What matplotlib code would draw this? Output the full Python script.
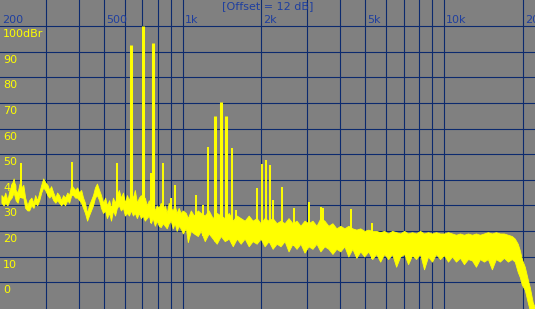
import numpy as np
import matplotlib
matplotlib.use("Agg")
import matplotlib.pyplot as plt
from matplotlib.ticker import NullLocator

# noise floor: frequency (Hz), upper and lower edge of the trace (dBr)
floor_f = [202, 206, 209, 213, 217, 221, 225, 229, 233, 237, 241, 245, 249, 254, 258, 263,
           268, 272, 277, 282, 287, 292, 297, 303, 308, 313, 319, 325, 330, 336, 342, 348,
           354, 361, 367, 374, 380, 387, 394, 401, 408, 415, 422, 430, 437, 445, 453, 461,
           469, 478, 486, 495, 504, 512, 522, 531, 540, 550, 559, 569, 579, 590, 600, 611,
           622, 633, 644, 655, 667, 679, 691, 703, 715, 728, 741, 754, 767, 781, 795, 809,
           823, 838, 853, 868, 883, 899, 915, 931, 947, 964, 981, 1000,
           1027, 1045, 1073, 1102, 1141, 1171, 1213, 1256, 1301, 1348, 1397, 1447, 1499, 1553,
           1609, 1665, 1725, 1787, 1850, 1917, 1985, 2056, 2130, 2207, 2286, 2366, 2452, 2539,
           2630, 2725, 2821, 2923, 3027, 3136, 3248, 3363, 3485, 3609, 3739, 3872, 4009, 4155,
           4302, 4456, 4616, 4780, 4952, 5127, 5310, 5500, 5698, 5900, 6112, 6330, 6557, 6793,
           7035, 7285, 7545, 7816, 8099, 8385, 8685, 8996, 9317, 9655, 10000, 10360, 10730,
           11110, 11510, 11920, 12350, 12790, 13250, 13720, 14220, 14720, 15250, 15800, 16360,
           16950, 17560, 18180, 18660, 19150, 19500, 19860, 20380, 20930, 21300, 21870, 22300]
floor_hi = [34, 33, 35, 32, 36, 38, 40.5, 36, 35, 38.5, 37, 38, 33, 30, 32, 33,
            31, 34, 32, 35, 38, 40.5, 39, 38, 36, 37.5, 35, 33, 35, 34, 32, 34,
            33, 35, 34, 38, 37, 36, 37, 35, 36, 33, 31, 27, 30, 32, 34, 37,
            38.5, 36, 34, 31, 33, 30, 32, 29, 33, 31, 34, 36, 33, 35, 31, 34,
            32, 35, 33, 36, 31, 33, 34, 31, 33, 30, 32, 29, 31, 28, 30, 29,
            31, 28, 30, 27, 31, 29, 28, 30, 27, 29, 27, 28,
            27, 25, 28, 26, 28, 27, 26, 28, 25, 27, 26, 25, 27, 24,
            26, 25, 24, 26, 24, 25, 23, 25, 24, 25, 23, 24, 23, 25,
            23, 24, 22, 24, 23, 24, 22, 25, 24, 22, 23, 21, 22, 21,
            22, 21, 20.5, 21, 20, 20.5, 20, 20, 19.5, 20, 19, 20, 19.5, 19,
            20, 19, 19.5, 19, 20, 19, 19.5, 19, 19.5, 19, 19, 19.5, 19,
            18.5, 19, 18.5, 19, 18.5, 19, 18.5, 19, 19.5, 19, 19.5, 19,
            19, 18.5, 18, 17, 15, 12.5, 9, 6, 1, -2, -8, -10]
floor_lo = [31, 30, 31, 30, 32, 33, 35, 32, 31, 34, 33, 33, 29, 28, 28, 30,
            29, 31, 30, 32, 35, 37, 36, 34, 33, 34, 32, 31, 32, 31, 30, 31,
            30, 32, 31, 34, 34, 33, 33, 32, 31, 29, 27, 24, 26, 28, 30, 33,
            34, 32, 29, 27, 28, 25, 27, 24, 28, 26, 29, 30, 28, 29, 26, 27,
            26, 28, 26, 27, 25, 27, 25, 26, 24, 25, 26, 23, 25, 22, 24, 22,
            21.5, 23, 22, 21, 23, 24, 21, 23, 20, 22, 21, 19,
            21, 15.6, 20, 19, 18, 20, 16, 19, 17, 15, 18, 16, 17, 14,
            17, 15, 17, 14, 16, 15, 17, 14, 16, 13, 15, 14, 16, 12,
            15, 13, 15, 11.5, 14, 13, 15, 12, 14, 13, 11, 13, 12, 14,
            10, 13, 9.5, 12, 10, 12, 9, 11, 8, 11, 9, 11, 6, 10,
            11, 7, 10.5, 9, 11, 5, 10, 8, 11, 9, 10.5, 8, 10,
            8, 9.5, 7, 9, 8.5, 6, 9, 8, 9, 5, 9, 8,
            9.5, 8, 9, 8, 4, 2, -1, -3, -8, -11, -11, -11]

# discrete tones sticking out of the floor
peak_f = [241, 375, 560, 633, 704, 755, 768, 839, 900, 935, 1121, 1192, 1251, 1325,
          1397, 1468, 1538, 1593, 1928, 2002, 2074, 2148, 2220, 2388, 2672, 3033,
          3380, 3430, 4413, 5310]
peak_db = [46.5, 47, 46.5, 92.6, 100, 42.6, 93.4, 46.5, 33, 38, 34, 30, 52.7, 65,
           70.4, 64.8, 52.5, 28, 36.7, 46, 47.6, 45.7, 32, 37.2, 29, 31.4,
           29.4, 29, 28.5, 23]

grid_f = [300, 400, 500, 600, 700, 800, 900, 1000, 2000, 3000, 4000, 5000,
          6000, 7000, 8000, 9000, 10000, 20000]
freq_ticks = [200, 500, 1000, 2000, 5000, 10000, 20000]
freq_labels = ['200', '500', '1k', '2k', '5k', '10k', '20k']
db_ticks = [100, 90, 80, 70, 60, 50, 40, 30, 20, 10, 0]
db_labels = ['100dBr', '90', '80', '70', '60', '50', '40', '30', '20', '10', '0']

yellow = '#ffff00'
navy = '#0c2a6e'
blue = '#1f3f9f'

fig = plt.figure(figsize=(5.35, 3.09), dpi=100)
ax = fig.add_axes([0, 0, 1, 1])
ax.set_facecolor('#808080')
ax.set_xscale('log')
ax.set_xlim(199.5, 22300)
ax.set_ylim(-10.5, 110.2)

for f in grid_f:
    ax.axvline(f, color=navy, lw=0.8, zorder=1)
for d in db_ticks:
    ax.axhline(d, color=navy, lw=0.8, zorder=1)

ax.fill_between(floor_f, floor_lo, floor_hi, color=yellow, lw=0.6,
                edgecolor=yellow, zorder=3)

base = np.interp(np.log10(peak_f), np.log10(floor_f), floor_lo)
widths = [2.2 if d > 60 else 1.4 for d in peak_db]
ax.vlines(peak_f, base, peak_db, colors=yellow, lw=widths, zorder=3)

for f, lab in zip(freq_ticks, freq_labels):
    ax.annotate(lab, (f, 100), xytext=(1.5, 0.5), textcoords='offset points',
                color=blue, fontsize=8, ha='left', va='bottom', zorder=5,
                annotation_clip=False)
ytr = ax.get_yaxis_transform()
for d, lab in zip(db_ticks, db_labels):
    ax.text(0.006, d - 1.2, lab, transform=ytr, color=yellow, fontsize=8,
            ha='left', va='top', zorder=5)

ax.text(0.50, 0.997, '[Offset = 12 dB]', transform=ax.transAxes, color=blue,
        fontsize=8, ha='center', va='top', zorder=5)

ax.xaxis.set_major_locator(NullLocator())
ax.xaxis.set_minor_locator(NullLocator())
ax.yaxis.set_major_locator(NullLocator())
for s in ax.spines.values():
    s.set_visible(False)

fig.savefig('out.png', dpi=100)
